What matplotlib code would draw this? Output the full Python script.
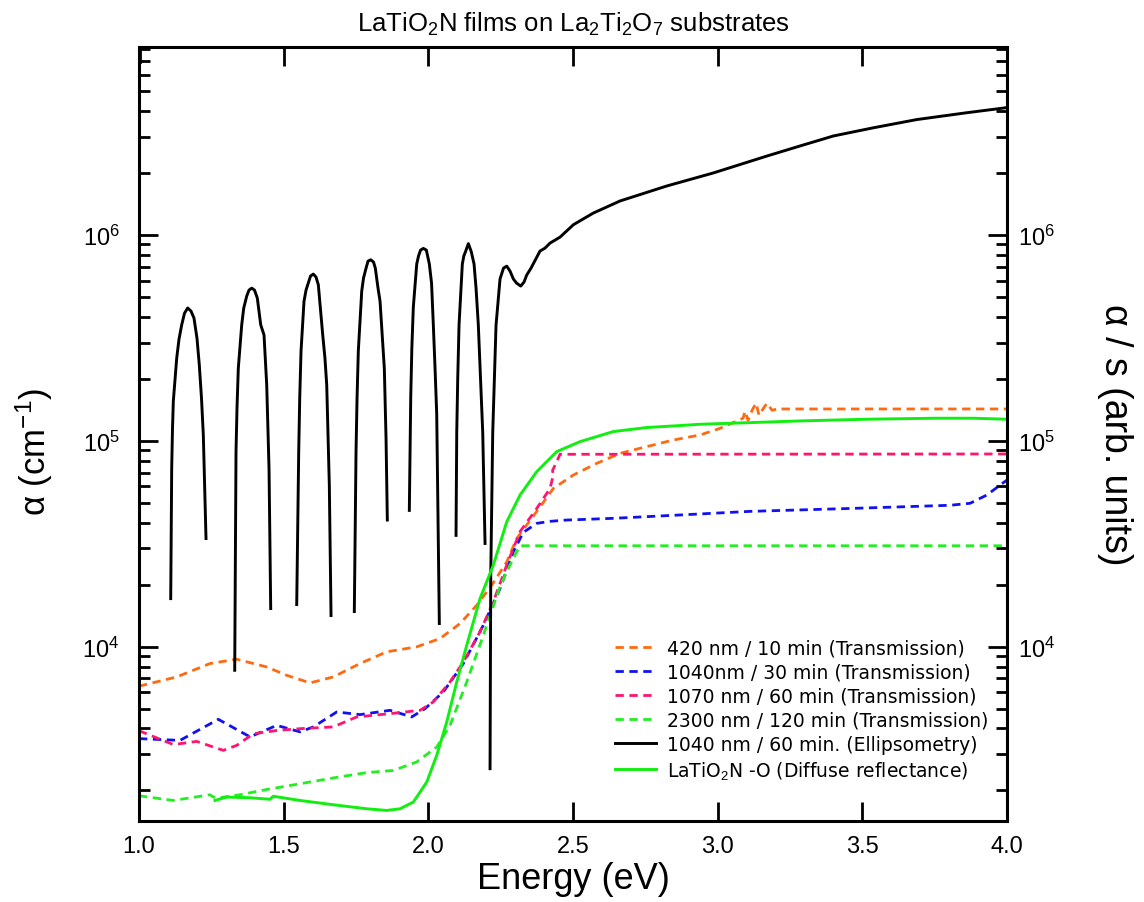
import numpy as np
import matplotlib
matplotlib.use("Agg")
import matplotlib.pyplot as plt
from matplotlib.ticker import LogLocator, NullFormatter, FixedLocator

plt.rcParams['font.family'] = ['Liberation Sans', 'DejaVu Sans']
plt.rcParams['mathtext.fontset'] = 'custom'
plt.rcParams['mathtext.rm'] = 'Liberation Sans'
plt.rcParams['mathtext.it'] = 'Liberation Sans:italic'
plt.rcParams['mathtext.bf'] = 'Liberation Sans:bold'

NAN = np.nan

# Ellipsometry (1040 nm / 60 min): interference fringes, gaps where alpha is undefined
E_ell = [1.005, 1.005, NAN,
         1.1096, 1.113, 1.1158, 1.1186, 1.1303, 1.1383, 1.1476, 1.1573, 1.1683, 1.1797, 1.190,
         1.2004, 1.2084, 1.216, 1.2223, 1.2316, NAN,
         1.3308, 1.3353, 1.3387, 1.3432, 1.355, 1.3619, 1.3723, 1.3802, 1.3896, 1.3992, 1.4089,
         1.4207, 1.4321, 1.4414, 1.4494, 1.4552, NAN,
         1.5451, 1.552, 1.5555, 1.560, 1.5703, 1.5773, 1.5852, 1.5928, 1.6025, 1.6118, 1.6198,
         1.6350, 1.6427, 1.6488, 1.6578, 1.6637, NAN,
         1.7442, 1.7501, 1.7536, 1.758, 1.7698, 1.776, 1.7847, 1.7916, 1.8009, 1.8106, 1.8168,
         1.8261, 1.8331, 1.8479, 1.8538, 1.8583, NAN,
         1.9343, 1.9392, 1.943, 1.9481, 1.9599, 1.9661, 1.9731, 1.9827, 1.9931, 2.0035, 2.0111,
         2.0173, 2.0232, 2.029, 2.038, NAN,
         2.0957, 2.0982, 2.1016, 2.1061, 2.1175, 2.1227, 2.1286, 2.1383, 2.1483, 2.158, 2.1649,
         2.1728, 2.1804, 2.188, 2.196, NAN,
         2.2133, 2.2157, 2.2226, 2.234, 2.2478, 2.26, 2.271, 2.2824, 2.2938, 2.3049, 2.3194,
         2.3308, 2.340, 2.355, 2.3747, 2.386, 2.4034, 2.4207, 2.4553, 2.5012, 2.5703, 2.6626,
         2.824, 2.985, 3.170, 3.285, 3.400, 3.538, 3.688, 3.861, 3.9935, 4.0]
a_ell = [9.0e6, 6.9e6, NAN,
         1.71e4, 7.35e4, 1.15e5, 1.556e5, 2.52e5, 3.12e5, 3.66e5, 4.17e5, 4.42e5, 4.27e5, 3.95e5,
         3.15e5, 2.34e5, 1.61e5, 1.067e5, 3.35e4, NAN,
         7.67e3, 8.89e4, 1.44e5, 2.25e5, 3.66e5, 4.41e5, 5.05e5, 5.40e5, 5.52e5, 5.40e5, 4.94e5,
         3.66e5, 3.27e5, 1.87e5, 7.35e4, 1.53e4, NAN,
         1.60e4, 8.89e4, 1.61e5, 2.73e5, 4.77e5, 5.40e5, 5.84e5, 6.32e5, 6.46e5, 6.25e5, 5.73e5,
         3.27e5, 2.52e5, 1.87e5, 6.09e4, 1.415e4, NAN,
         1.48e4, 8.89e4, 1.61e5, 2.73e5, 5.34e5, 6.18e5, 6.90e5, 7.47e5, 7.58e5, 7.39e5, 6.90e5,
         5.52e5, 4.77e5, 2.25e5, 1.03e5, 4.12e4, NAN,
         4.59e4, 1.636e5, 2.82e5, 4.46e5, 7.23e5, 7.91e5, 8.45e5, 8.61e5, 8.45e5, 7.23e5, 5.84e5,
         3.65e5, 2.25e5, 1.346e5, 1.294e4, NAN,
         3.47e4, 1.099e5, 2.01e5, 3.65e5, 7.23e5, 7.91e5, 8.31e5, 9.08e5, 8.31e5, 7.23e5, 5.52e5,
         3.65e5, 2.01e5, 1.099e5, 3.17e4, NAN,
         2.55e3, 2.215e4, 1.099e5, 3.65e5, 6.12e5, 6.91e5, 7.06e5, 6.68e5, 6.12e5, 5.84e5, 5.65e5,
         5.91e5, 6.39e5, 6.91e5, 7.81e5, 8.36e5, 8.64e5, 9.14e5, 9.77e5, 1.122e6, 1.279e6, 1.464e6,
         1.731e6, 2.003e6, 2.42e6, 2.71e6, 3.03e6, 3.32e6, 3.64e6, 3.93e6, 4.15e6, 4.17e6]

# Transmission, 420 nm / 10 min
E_420 = [1.0, 1.1303, 1.2454, 1.3377, 1.4414, 1.5106, 1.5911, 1.6716, 1.7639, 1.8562, 1.9599,
         2.0404, 2.1096, 2.1673, 2.2192, 2.271, 2.3056, 2.3747, 2.4321, 2.5012, 2.5821, 2.6626,
         2.7549, 2.8469, 2.9392, 3.0083, 3.0878, 3.0947, 3.105, 3.1189, 3.1327, 3.143, 3.1604,
         3.1707, 3.188, 3.2053, 4.0]
a_420 = [6.42e3, 7.12e3, 8.27e3, 8.68e3, 7.96e3, 7.25e3, 6.66e3, 7.12e3, 8.27e3, 9.43e3, 9.97e3,
         1.094e4, 1.294e4, 1.588e4, 1.988e4, 2.58e4, 3.35e4, 4.54e4, 5.87e4, 6.82e4, 7.77e4, 8.69e4,
         9.37e4, 1.009e5, 1.067e5, 1.15e5, 1.287e5, 1.392e5, 1.259e5, 1.407e5, 1.522e5, 1.331e5, 1.455e5,
         1.522e5, 1.407e5, 1.428e5, 1.428e5]

# Transmission, 1040 nm / 30 min
E_1040 = [1.0, 1.1417, 1.2741, 1.3837, 1.476, 1.5565, 1.6025, 1.6834, 1.7639, 1.8676, 1.9426,
          1.9886, 2.0518, 2.121, 2.1901, 2.2478, 2.2938, 2.3284, 2.3747, 2.4207, 2.4784, 2.6395,
          2.870, 3.112, 3.4577, 3.8033, 3.8725, 3.9302, 4.0]
a_1040 = [3.57e3, 3.50e3, 4.43e3, 3.64e3, 4.14e3, 3.85e3, 4.07e3, 4.81e3, 4.67e3, 4.90e3, 4.55e3,
          4.99e3, 6.02e3, 8.27e3, 1.27e4, 1.915e4, 2.89e4, 3.59e4, 3.97e4, 4.06e4, 4.12e4, 4.20e4,
          4.36e4, 4.54e4, 4.69e4, 4.86e4, 4.97e4, 5.45e4, 6.45e4]

# Transmission, 1070 nm / 60 min
E_1070 = [1.0, 1.1186, 1.1994, 1.2914, 1.3377, 1.3951, 1.476, 1.5565, 1.6716, 1.7525, 1.8676,
          1.9713, 2.0173, 2.075, 2.121, 2.1787, 2.2247, 2.271, 2.317, 2.3747, 2.4207, 2.4321,
          2.4293, 2.4438, 2.4552, 4.0]
a_1070 = [3.90e3, 3.34e3, 3.46e3, 3.13e3, 3.31e3, 3.77e3, 3.91e3, 3.99e3, 4.07e3, 4.55e3, 4.72e3,
          4.90e3, 5.38e3, 6.73e3, 8.42e3, 1.179e4, 1.65e4, 2.49e4, 3.62e4, 4.69e4, 5.87e4, 6.82e4,
          7.18e4, 7.92e4, 8.60e4, 8.63e4]

# Transmission, 2300 nm / 120 min
E_2300 = [1.0, 1.1186, 1.2454, 1.2558, 1.2686, 1.3491, 1.4414, 1.5565, 1.6716, 1.7871, 1.879,
          1.9599, 2.029, 2.075, 2.1327, 2.1901, 2.2478, 2.2824, 2.3056, 2.317, 4.0]
a_2300 = [1.883e3, 1.787e3, 1.905e3, 1.862e3, 1.835e3, 1.905e3, 2.02e3, 2.154e3, 2.30e3, 2.44e3, 2.50e3,
          2.75e3, 3.25e3, 4.14e3, 6.73e3, 1.135e4, 1.96e4, 2.49e4, 2.89e4, 3.09e4, 3.09e4]

# Diffuse reflectance of LaTiO2N -O powder (alpha / s)
E_dr = [1.2627, 1.3031, 1.3837, 1.4528, 1.4642, 1.5565, 1.6716, 1.7871, 1.8562, 1.9022, 1.9482,
        1.9945, 2.029, 2.0636, 2.0982, 2.1327, 2.1787, 2.2247, 2.271, 2.317, 2.3747, 2.4438,
        2.5244, 2.6395, 2.7549, 2.87, 2.9392, 3.2848, 3.5154, 3.7456, 3.8839, 4.0]
a_dr = [1.787e3, 1.856e3, 1.842e3, 1.811e3, 1.873e3, 1.787e3, 1.703e3, 1.628e3, 1.598e3, 1.628e3, 1.755e3,
        2.196e3, 2.96e3, 4.30e3, 6.73e3, 1.015e4, 1.712e4, 2.49e4, 4.04e4, 5.45e4, 7.08e4, 8.86e4,
        9.91e4, 1.109e5, 1.16e5, 1.186e5, 1.203e5, 1.249e5, 1.273e5, 1.287e5, 1.287e5, 1.273e5]

labels = ["420 nm / 10 min (Transmission)",
          "1040nm / 30 min (Transmission)",
          "1070 nm / 60 min (Transmission)",
          "2300 nm / 120 min (Transmission)",
          "1040 nm / 60 min. (Ellipsometry)",
          "LaTiO$_2$N -O (Diffuse reflectance)"]
x_ticks = [1.0, 1.5, 2.0, 2.5, 3.0, 3.5, 4.0]
y_ticks = [1e4, 1e5, 1e6]
y_ticklabels = ["$10^{4}$", "$10^{5}$", "$10^{6}$"]

W, H = 1144, 903
fig = plt.figure(figsize=(W / 100, H / 100), dpi=100)
ax = fig.add_axes([139 / W, 1 - 822 / H, 868 / W, 774 / H])

lw = 2.0
dash = (0, (3.0, 2.0))
h1, = ax.plot(E_420, a_420, color='#FF6A10', lw=lw, ls=dash)
h2, = ax.plot(E_1040, a_1040, color='#1010F0', lw=lw, ls=dash)
h3, = ax.plot(E_1070, a_1070, color='#FF1470', lw=lw, ls=dash)
h4, = ax.plot(E_2300, a_2300, color='#22EE22', lw=lw, ls=dash)
h5, = ax.plot(E_ell, a_ell, color='black', lw=2.1, solid_joinstyle='round')
h6, = ax.plot(E_dr, a_dr, color='#11EE11', lw=2.1, solid_joinstyle='round')

ax.set_xlim(1.0, 4.0)
ax.set_yscale('log')
ax.set_ylim(1.42e3, 8.2e6)

ax.xaxis.set_major_locator(FixedLocator(x_ticks))
ax.set_xticklabels([f"{v:.1f}" for v in x_ticks], fontsize=17)
ax.yaxis.set_major_locator(FixedLocator(y_ticks))
ax.set_yticklabels(y_ticklabels, fontsize=17)
ax.yaxis.set_minor_locator(LogLocator(base=10, subs=np.arange(2, 10), numticks=20))
ax.yaxis.set_minor_formatter(NullFormatter())

ax.tick_params(axis='both', which='major', direction='in', length=14, width=2, top=True)
ax.tick_params(axis='y', which='major', pad=14)
ax.tick_params(axis='y', which='minor', direction='in', length=8, width=2)
ax.tick_params(axis='x', which='major', pad=10)
for s in ax.spines.values():
    s.set_linewidth(2.2)

ax2 = ax.twinx()
ax2.set_yscale('log')
ax2.set_ylim(ax.get_ylim())
ax2.yaxis.set_major_locator(FixedLocator(y_ticks))
ax2.set_yticklabels(y_ticklabels, fontsize=17)
ax2.yaxis.set_minor_locator(LogLocator(base=10, subs=np.arange(2, 10), numticks=20))
ax2.yaxis.set_minor_formatter(NullFormatter())
ax2.tick_params(axis='y', which='major', direction='in', length=14, width=2, pad=8)
ax2.tick_params(axis='y', which='minor', direction='in', length=8, width=2)

ax.set_xlabel("Energy (eV)", fontsize=26, labelpad=3)
ax.set_ylabel("α (cm$^{-1}$)", fontsize=25)
ax.yaxis.set_label_coords(-0.097, 0.478)
ax2.set_ylabel("α / s (arb. units)", fontsize=27, rotation=270, labelpad=56)
ax.set_title("LaTiO$_2$N films on La$_2$Ti$_2$O$_7$ substrates", fontsize=18.5, pad=12)

leg = ax.legend([h1, h2, h3, h4, h5, h6], labels, loc='upper left',
                bbox_to_anchor=(0.548, 0.236), frameon=False,
                prop={'family': ['DejaVu Sans'], 'size': 13.5}, borderpad=0, borderaxespad=0,
                handlelength=2.2, handletextpad=0.6, labelspacing=0.27)

fig.savefig("out.png", dpi=100)
